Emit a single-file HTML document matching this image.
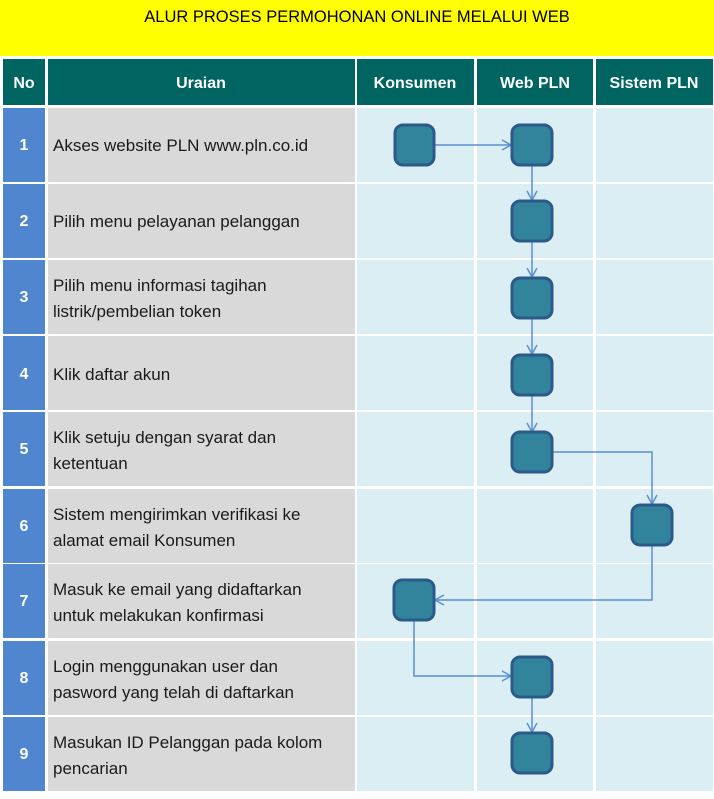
<!DOCTYPE html>
<html><head><meta charset="utf-8"><style>
body{margin:0;background:#fff}
text{font-family:"Liberation Sans",sans-serif}
</style></head><body>
<svg width="714" height="794" viewBox="0 0 714 794" xmlns="http://www.w3.org/2000/svg">
<defs>
<marker id="a" markerWidth="12" markerHeight="12" refX="10" refY="6" orient="auto" markerUnits="userSpaceOnUse">
<path d="M1,1 L10,6 L1,11" fill="none" stroke="#5b8fd0" stroke-width="1.5"/>
</marker>
<g id="r">
<rect x="3" y="0" width="42" height="74" fill="#4f86cf"/>
<rect x="48" y="0" width="307" height="74" fill="#d9d9d9"/>
<rect x="357" y="0" width="117" height="74" fill="#dbeef3"/>
<rect x="477" y="0" width="116" height="74" fill="#dbeef3"/>
<rect x="596" y="0" width="117" height="74" fill="#dbeef3"/>
</g>
</defs>
<rect x="0" y="0" width="714" height="56" fill="#ffff00"/>
<text x="357" y="22" font-size="16.5" text-anchor="middle" fill="#000">ALUR PROSES PERMOHONAN ONLINE MELALUI WEB</text>
<g fill="#006461">
<rect x="3" y="59" width="42" height="46"/>
<rect x="48" y="59" width="307" height="46"/>
<rect x="357" y="59" width="117" height="46"/>
<rect x="477" y="59" width="116" height="46"/>
<rect x="596" y="59" width="117" height="46"/>
</g>
<g fill="#fff" font-size="16" font-weight="bold" text-anchor="middle">
<text x="24" y="88">No</text>
<text x="201" y="88">Uraian</text>
<text x="415" y="88">Konsumen</text>
<text x="535" y="88">Web PLN</text>
<text x="654" y="88">Sistem PLN</text>
</g>
<use href="#r" y="108"/>
<use href="#r" y="184"/>
<use href="#r" y="260"/>
<use href="#r" y="336"/>
<use href="#r" y="412"/>
<use href="#r" y="489"/>
<use href="#r" y="564"/>
<use href="#r" y="641"/>
<use href="#r" y="717"/>
<g fill="#fff" font-size="16" font-weight="bold" text-anchor="middle">
<text x="24" y="150">1</text>
<text x="24" y="226">2</text>
<text x="24" y="302">3</text>
<text x="24" y="379">4</text>
<text x="24" y="454">5</text>
<text x="24" y="531">6</text>
<text x="24" y="606">7</text>
<text x="24" y="683">8</text>
<text x="24" y="759">9</text>
</g>
<g fill="#1a1a1a" font-size="17">
<text x="53" y="151">Akses website PLN www.pln.co.id</text>
<text x="53" y="227">Pilih menu pelayanan pelanggan</text>
<text x="53" y="291">Pilih menu informasi tagihan</text>
<text x="53" y="317">listrik/pembelian token</text>
<text x="53" y="380">Klik daftar akun</text>
<text x="53" y="443">Klik setuju dengan syarat dan</text>
<text x="53" y="469">ketentuan</text>
<text x="53" y="520">Sistem mengirimkan verifikasi ke</text>
<text x="53" y="546">alamat email Konsumen</text>
<text x="53" y="595">Masuk ke email yang didaftarkan</text>
<text x="53" y="621">untuk melakukan konfirmasi</text>
<text x="53" y="672">Login menggunakan user dan</text>
<text x="53" y="698">pasword yang telah di daftarkan</text>
<text x="53" y="748">Masukan ID Pelanggan pada kolom</text>
<text x="53" y="774">pencarian</text>
</g>
<g fill="none" stroke="#5b8fd0" stroke-width="1.5" marker-end="url(#a)">
<path d="M434,145 H511"/>
<path d="M532,165 V200"/>
<path d="M532,241 V277"/>
<path d="M532,318 V354"/>
<path d="M532,395 V432"/>
<path d="M553,452 H652 V504"/>
<path d="M652,545 V600 H435"/>
<path d="M414,620 V676 H511"/>
<path d="M532,697 V732"/>
</g>
<g fill="#31849b" stroke="#2b5a8a" stroke-width="3">
<rect x="395" y="125" width="39" height="40" rx="8"/>
<rect x="512" y="125" width="40" height="40" rx="8"/>
<rect x="512" y="201" width="40" height="40" rx="8"/>
<rect x="512" y="278" width="40" height="40" rx="8"/>
<rect x="512" y="355" width="40" height="40" rx="8"/>
<rect x="512" y="432" width="40" height="40" rx="8"/>
<rect x="632" y="505" width="40" height="40" rx="8"/>
<rect x="394" y="580" width="40" height="40" rx="8"/>
<rect x="512" y="657" width="40" height="40" rx="8"/>
<rect x="512" y="733" width="40" height="40" rx="8"/>
</g>
</svg>
</body></html>
